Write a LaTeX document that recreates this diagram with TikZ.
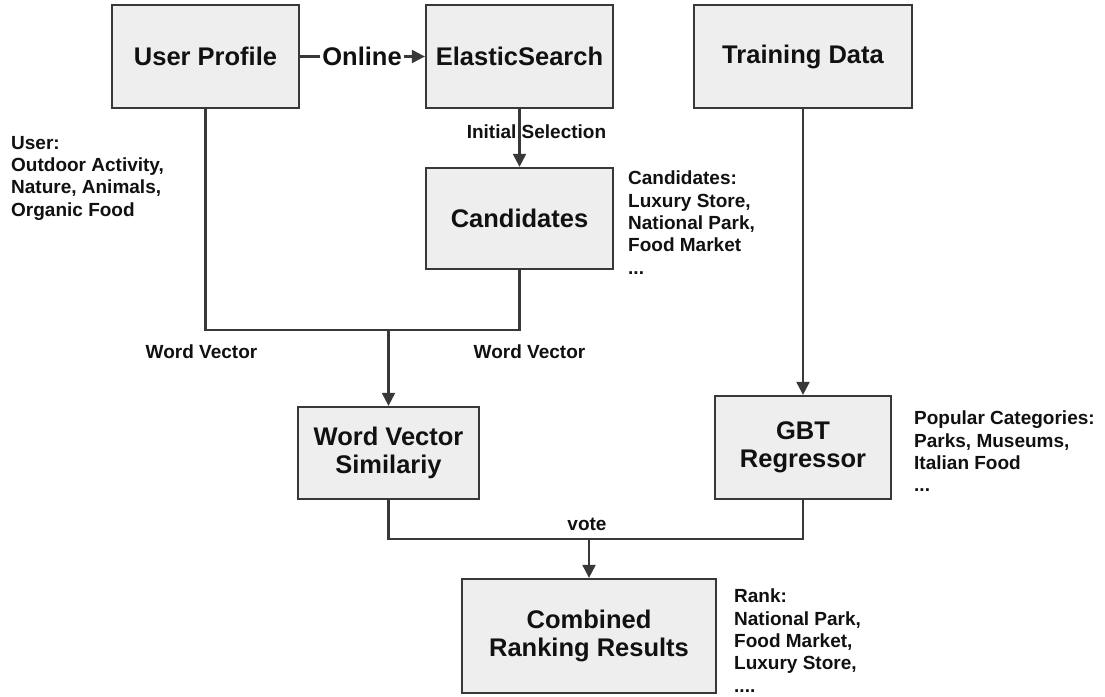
\documentclass[tikz,border=0pt]{standalone}
\usepackage{fontspec}
\setmainfont{Liberation Sans}
\usetikzlibrary{arrows.meta}
\definecolor{boxfill}{HTML}{EEEEEE}
\definecolor{edgecol}{HTML}{383838}
\definecolor{txt}{HTML}{111111}
\tikzset{
  box/.style={draw=edgecol, fill=boxfill, line width=2.3pt, inner sep=0pt, align=center,
    font=\fontsize{25.5}{28.5}\selectfont\bfseries, text=txt},
  conn/.style={draw=edgecol, line width=2.2pt},
  arr/.style={conn, -{Triangle[width=13pt,length=13pt]}},
  lbl/.style={font=\fontsize{19}{22}\selectfont\bfseries, inner sep=0pt, text=txt},
  note/.style={lbl, align=left, anchor=north west, font=\fontsize{19}{22.3}\selectfont\bfseries},
}
\begin{document}
\begin{tikzpicture}[x=1pt,y=-1pt]
\useasboundingbox[fill=white] (0,0) rectangle (1105,696);
% boxes
\node[box, minimum width=187pt, minimum height=103pt] (up) at (205.5,56.5) {User Profile};
\node[box, minimum width=187pt, minimum height=103pt] (es) at (519.5,56.5) {ElasticSearch};
\node[box, minimum width=218pt, minimum height=103pt] (td) at (803,56.5) {Training Data};
\node[box, minimum width=187pt, minimum height=101pt] (cand) at (519.5,218.5) {Candidates};
\node[box, minimum width=181pt, minimum height=92pt] (wvs) at (388.5,453) {Word Vector\\Similariy};
\node[box, minimum width=176pt, minimum height=103pt] (gbt) at (803,447.5) {GBT\\Regressor};
\node[box, minimum width=254pt, minimum height=114pt] (comb) at (589,636) {Combined\\Ranking Results};
% online connector
\node[inner sep=2pt, font=\fontsize{25.5}{28.5}\selectfont\bfseries, text=txt] (onl) at (362,56.5) {Online};
\draw[conn] (up.east) -- (onl.west);
\draw[arr] (onl.east) -- (es.west);
% initial selection
\draw[arr] (es.south) -- (cand.north);
\node[lbl] (isel) at (536.5,132) {Initial Selection};
% word vector merge
\coordinate (j1) at (0,330);
\draw[conn] (up.south) -- (up.south |- j1) -- (cand.south |- j1) -- (cand.south);
\draw[arr] (wvs.north |- j1) -- (wvs.north);
\node[lbl] (wv1) at (201.5,352) {Word Vector};
\node[lbl] (wv2) at (529.5,352) {Word Vector};
% training
\draw[arr] (td.south) -- (gbt.north);
% vote merge
\coordinate (j2) at (0,539);
\draw[conn] (wvs.south) -- (wvs.south |- j2) -- (gbt.south |- j2) -- (gbt.south);
\draw[arr] (comb.north |- j2) -- (comb.north);
\node[lbl] (vote) at (587,524) {vote};
% notes
\node[note] (nuser) at (11,136) {User:\\Outdoor Activity,\\Nature, Animals,\\Organic Food};
\node[note] (ncand) at (628,171) {Candidates:\\Luxury Store,\\National Park,\\Food Market\\...};
\node[note] (npop) at (914,411) {Popular Categories:\\Parks, Museums,\\Italian Food\\...};
\node[note] (nrank) at (734,589) {Rank:\\National Park,\\Food Market,\\Luxury Store,\\....};
\end{tikzpicture}
\end{document}
